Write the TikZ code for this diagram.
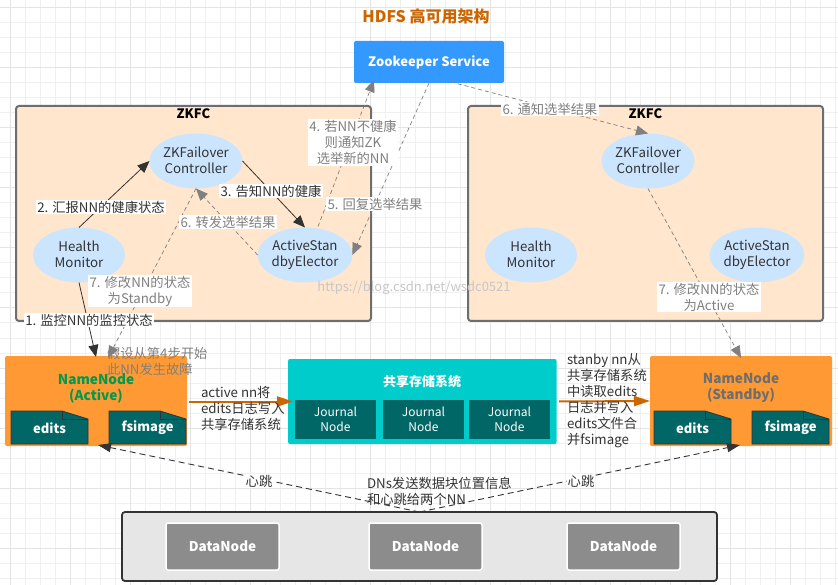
\documentclass[tikz,border=0pt]{standalone}
\usepackage{fontspec}
\setmainfont{Noto Sans CJK SC}
\usetikzlibrary{shapes.geometric,arrows.meta,calc}
\definecolor{gridminor}{HTML}{F0F0F0}
\definecolor{gridmajor}{HTML}{E4E4E4}
\definecolor{zkfcfill}{HTML}{FFE6CC}
\definecolor{zkfcline}{HTML}{6E6E6E}
\definecolor{ellfill}{HTML}{CCE5FF}
\definecolor{txtdark}{HTML}{333333}
\definecolor{lblgray}{HTML}{808080}
\definecolor{nnorange}{HTML}{FF9933}
\definecolor{deeporange}{HTML}{CC6600}
\definecolor{tealdark}{HTML}{006666}
\definecolor{cyanbox}{HTML}{00CCCC}
\definecolor{bluebox}{HTML}{3399FF}
\definecolor{dngray}{HTML}{8C8C8C}
\definecolor{dnbg}{HTML}{E6E6E6}
\definecolor{activegreen}{HTML}{00994D}
\tikzset{
  x=1pt,y=-1pt,
  every node/.style={font=\fontsize{13.3}{16}\selectfont, inner sep=0pt, outer sep=0pt, text=txtdark},
  zkfcbox/.style={draw=zkfcline, line width=2pt, fill=zkfcfill, rounded corners=3pt, minimum width=355pt, minimum height=215pt},
  ell/.style={ellipse, fill=ellfill, minimum width=92pt, minimum height=55pt, align=center, execute at begin node={\rule{0pt}{13pt}}, execute at end node={\rule[-1.6pt]{0pt}{1.6pt}}},
  nnbox/.style={fill=nnorange, rounded corners=2pt, minimum width=182pt, minimum height=90pt},
  nntext/.style={font=\fontsize{13.6}{16}\selectfont\bfseries, align=center},
  jbox/.style={fill=tealdark, minimum width=81pt, minimum height=39pt, text=white, align=center, font=\fontsize{12}{15}\selectfont, execute at begin node={\rule{0pt}{13pt}}, execute at end node={\rule[-1pt]{0pt}{1pt}}},
  dnbox/.style={draw=white, line width=1.5pt, fill=dngray, rounded corners=2pt, minimum width=113pt, minimum height=47pt, text=white, font=\fontsize{13.5}{16}\selectfont\bfseries},
  blk/.style={draw=txtdark, line width=0.8pt, -{Triangle[length=12pt,width=10pt]}},
  gry/.style={draw=lblgray, line width=0.7pt, dash pattern=on 4pt off 3pt, -{Triangle[length=12pt,width=10pt,fill=lblgray]}},
  hb/.style={draw=txtdark, line width=0.9pt, dash pattern=on 6pt off 4pt, -{Triangle[length=13pt,width=9pt,fill=txtdark]}},
  org/.style={draw=deeporange, line width=2pt, -{Triangle[length=16pt,width=10pt,fill=deeporange]}},
  lbl/.style={fill=white, align=center, inner xsep=1.5pt, inner ysep=1pt},
  lblg/.style={lbl, text=lblgray},
  freetxt/.style={align=left, anchor=north west},
}
\newcommand{\docshape}[4]{%
  \fill[tealdark, draw=txtdark, line width=0.8pt] (#2,#3) -- ++(51,0) -- ++(26,8) -- ++(0,25) -- ++(-77,0) -- cycle;
  \draw[txtdark, line width=0.8pt] (#2+51,#3) -- ++(0,8) -- ++(26,0);
  \node[text=white, font=\fontsize{13}{16}\selectfont\bfseries] (#1) at (#2+38.5,#3+17) {#4};
}
\begin{document}
\begin{tikzpicture}
\useasboundingbox (0,0) rectangle (838,585);
\fill[white] (0,0) rectangle (838,585);
% grid
\foreach \gx in {10,25,...,838} {\draw[gridminor, line width=1pt] (\gx,0) -- (\gx,585);}
\foreach \gy in {8,23,...,585} {\draw[gridminor, line width=1pt] (0,\gy) -- (838,\gy);}
\foreach \gx in {10,70,...,838} {\draw[gridmajor, line width=1pt] (\gx,0) -- (\gx,585);}
\foreach \gy in {8,68,...,585} {\draw[gridmajor, line width=1pt] (0,\gy) -- (838,\gy);}
% title
\node[text=deeporange, font=\fontsize{16}{18}\selectfont\bfseries] (title) at (426,16) {HDFS 高可用架构};
% zookeeper
\node[fill=bluebox, rounded corners=2pt, minimum width=150pt, minimum height=42pt, text=white, font=\fontsize{13}{16}\selectfont\bfseries] (zoo) at (429,62) {Zookeeper Service};
% ZKFC
\node[zkfcbox] (zl) at (193.5,213.5) {};
\node[zkfcbox] (zr) at (645.5,213.5) {};
\node[font=\fontsize{13}{16}\selectfont\bfseries, text=black] (zlt) at (193.5,114) {ZKFC};
\node[font=\fontsize{13}{16}\selectfont\bfseries, text=black] (zrt) at (645.5,114) {ZKFC};
% ellipses
\node[ell] (fcl) at (196,161) {ZKFailover\\Controller};
\node[ell] (hml) at (79,255) {Health\\Monitor};
\node[ell] (ael) at (305,255) {ActiveStan\\dbyElector};
\node[ell] (fcr) at (648,161) {ZKFailover\\Controller};
\node[ell] (hmr) at (531,255) {Health\\Monitor};
\node[ell] (aer) at (757,255) {ActiveStan\\dbyElector};
% namenodes
\node[nnbox] (nna) at (96,401) {};
\node[nnbox] (nns) at (741,401) {};
\node[nntext, text=activegreen] (nnat) at (96,388) {NameNode\\(Active)};
\node[nntext, text=zkfcline] (nnst) at (741,388) {NameNode\\(Standby)};
\docshape{ea}{11}{411}{edits}
\docshape{fa}{109}{411}{fsimage}
\docshape{es}{654}{411}{edits}
\docshape{fs}{752}{411}{fsimage}
% shared storage
\node[fill=cyanbox, rounded corners=2pt, minimum width=268.5pt, minimum height=85pt] (ss) at (422.3,401.5) {};
\node[text=white, font=\fontsize{13}{16}\selectfont\bfseries] (sst) at (422,382) {共享存储系统};
\node[jbox] (j1) at (335.5,419.5) {Journal\\Node};
\node[jbox] (j2) at (423.5,419.5) {Journal\\Node};
\node[jbox] (j3) at (509.5,419.5) {Journal\\Node};
% datanodes
\node[draw=txtdark, line width=1.8pt, fill=dnbg, rounded corners=3pt, minimum width=595pt, minimum height=69pt] (dnb) at (419.5,546.5) {};
\node[dnbox] (d1) at (222.5,546.5) {DataNode};
\node[dnbox] (d2) at (425.5,546.5) {DataNode};
\node[dnbox] (d3) at (623.5,546.5) {DataNode};
% connectors
\draw[blk] (hml.south) -- ([yshift=-1pt]nna.north);
\draw[blk] (hml.north) -- (fcl.west);
\draw[blk] (fcl.east) -- (ael.north);
\draw[gry] (ael.west) -- (fcl.south);
\draw[gry] (fcl.south) -- ([xshift=12pt,yshift=-2pt]nna.north);
\draw[gry] ([xshift=13pt,yshift=1pt]ael.north) -- ([xshift=20pt,yshift=3pt]zoo.south west);
\draw[gry] (zoo.south) -- (ael.east);
\draw[gry] ([xshift=22pt,yshift=1pt]zoo.south) -- (fcr.north);
\draw[gry] (fcr.south) -- ([yshift=-2pt]nns.north);
\draw[org] (nna.east |- ss.west) ++(2,0) -- ([xshift=5pt]ss.west);
\draw[org] ([xshift=2.5pt]ss.east) -- (nns.west);
\draw[hb] (dnb.north) -- ([xshift=2pt,yshift=1pt]nna.south);
\draw[hb] (dnb.north) -- ([xshift=-1pt,yshift=1pt]nns.south);
% labels
\node[lbl] (l1) at (89,320) {1. 监控NN的监控状态};
\node[lbl] (l2) at (101,207) {2. 汇报NN的健康状态};
\node[lbl] (l3) at (271,191) {3. 告知NN的健康};
\node[lblg] (l4) at (353,142.5) {4. 若NN不健康\\则通知ZK\\选举新的NN};
\node[lblg] (l5) at (375,204) {5. 回复选举结果};
\node[lblg] (l6a) at (228,222) {6. 转发选举结果};
\node[lblg] (l6b) at (550,109) {6. 通知选举结果};
\node[lblg] (l7a) at (140,291) {7. 修改NN的状态\\为Standby};
\node[lblg] (l7b) at (709,297) {7. 修改NN的状态\\为Active};
\node[freetxt, text=lblgray] (note) at (107,347.5) {假设从第4步开始\\此NN发生故障};
\node[freetxt] (t1) at (201,386) {active nn将\\edits日志写入\\共享存储系统};
\node[freetxt] (t2) at (567,353.5) {stanby nn从\\共享存储系统\\中读取edits\\日志并写入\\edits文件合\\并fsimage};
\node[fill=white, inner sep=1pt] (hb1) at (259,481) {心跳};
\node[fill=white, inner sep=1pt] (hb2) at (581,481) {心跳};
\node[freetxt] (dns) at (367,477) {DNs发送数据块位置信息\\和心跳给两个NN};
\node[text=black!22, font=\fontsize{13}{16}\selectfont] (wm) at (414,288) {https://blog.csdn.net/wsdc0521};
\end{tikzpicture}
\end{document}
